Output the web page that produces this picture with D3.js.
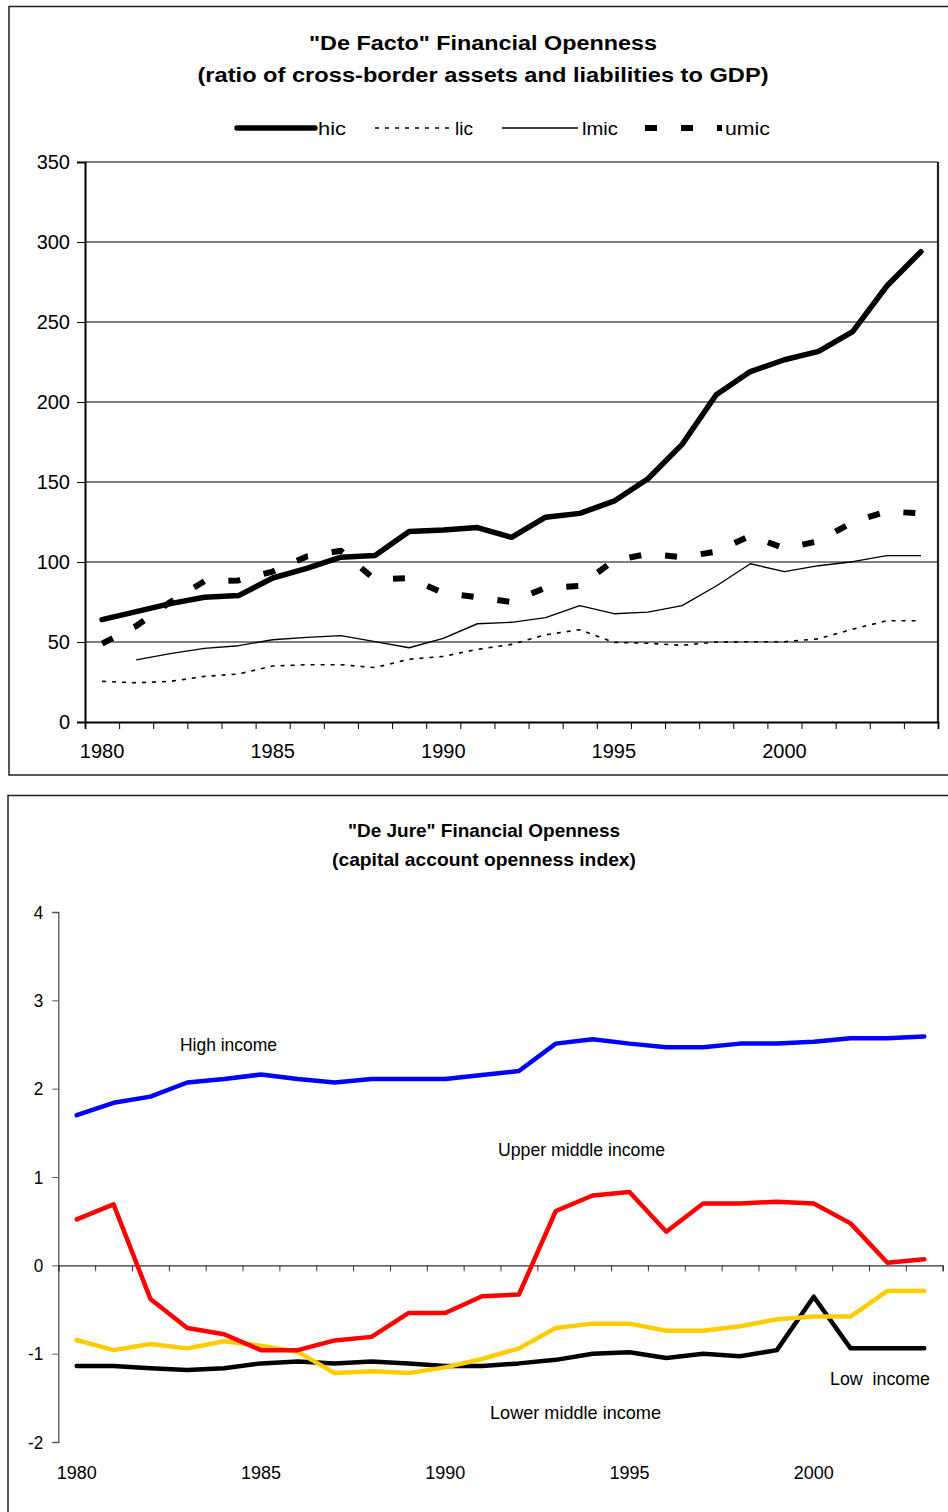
<!DOCTYPE html>
<html>
<head>
<meta charset="utf-8">
<script src="https://cdn.jsdelivr.net/npm/d3@7"></script>
<style>
  html, body { margin: 0; padding: 0; background: #fff; }
  svg { display: block; }
  text { font-family: "Liberation Sans", Arial, sans-serif; fill: #000; }
</style>
</head>
<body>
<svg id="chart" width="948" height="1512"></svg>
<script>
// ---------- Data: "De Facto" financial openness (% of GDP) ----------
const factoYears = d3.range(1980, 2005);
const factoTicks = [0, 50, 100, 150, 200, 250, 300, 350];
const factoLabelYears = [1980, 1985, 1990, 1995, 2000];
const hic  = [64, 69, 74, 78, 79, 90, 96, 103, 104, 119, 120, 121.5, 115.4, 128, 130.4, 138, 152, 173.5, 204.5, 219, 226.4, 231.6, 244, 272.5, 294];
const lic  = [25.4, 24.5, 25.4, 28.5, 30, 35, 35.8, 35.8, 34, 39.2, 41, 45.4, 48.5, 54.5, 57.7, 49.8, 49.2, 47.9, 50, 50.2, 50.2, 52, 58, 63.3, 63.3];
const lmic = [null, 38.8, 42.7, 46, 47.7, 51.4, 52.9, 54, 50.2, 46.4, 52.3, 61.4, 62.3, 65.2, 72.7, 67.7, 68.7, 72.7, 85, 98.9, 94, 97.7, 100.2, 104, 104];
const umic = [49, 60, 75, 88, 88.5, 94, 103.5, 107, 89, 90, 80.6, 78, 75, 84, 85, 101, 105, 103, 106.5, 116.4, 108.5, 113, 125, 131.6, 130.4];
const factoSeriesNames = ["hic", "lic", "lmic", "umic"];

// ---------- Data: "De Jure" capital account openness index ----------
const jureYears = d3.range(1980, 2004);
const jureTicks = [-2, -1, 0, 1, 2, 3, 4];
const jureLabelYears = [1980, 1985, 1990, 1995, 2000];
const highIncome  = [1.70, 1.84, 1.91, 2.07, 2.11, 2.16, 2.11, 2.07, 2.11, 2.11, 2.11, 2.155, 2.2, 2.51, 2.56, 2.51, 2.47, 2.47, 2.51, 2.51, 2.53, 2.57, 2.57, 2.59];
const upperMiddle = [0.52, 0.69, -0.38, -0.71, -0.78, -0.96, -0.96, -0.85, -0.81, -0.54, -0.54, -0.35, -0.33, 0.615, 0.79, 0.83, 0.38, 0.70, 0.70, 0.72, 0.70, 0.475, 0.03, 0.07];
const lowerMiddle = [-0.845, -0.96, -0.89, -0.94, -0.86, -0.91, -0.98, -1.22, -1.20, -1.22, -1.155, -1.06, -0.94, -0.71, -0.66, -0.66, -0.74, -0.74, -0.69, -0.61, -0.58, -0.58, -0.29, -0.29];
const lowIncome   = [-1.14, -1.14, -1.166, -1.185, -1.166, -1.11, -1.09, -1.11, -1.09, -1.11, -1.14, -1.14, -1.11, -1.07, -1.00, -0.985, -1.05, -1.00, -1.03, -0.96, -0.355, -0.94, -0.94, -0.94];
const jureLabels = ["High income", "Upper middle income", "Low  income", "Lower middle income"];

const svg = d3.select("#chart");

function fit(sel, w) {
  sel.attr("textLength", w).attr("lengthAdjust", "spacingAndGlyphs");
  return sel;
}

// =================== TOP CHART ===================
(function () {
  const g = svg.append("g");
  g.append("rect").attr("x", 9).attr("y", 6.5).attr("width", 960).attr("height", 768.5)
    .attr("fill", "none").attr("stroke", "#222").attr("stroke-width", 1.5);

  const L = 85, R = 938, T = 162, B = 722;
  const n = factoYears.length;
  const xBand = d3.scaleBand().domain(factoYears).range([L, R]).paddingInner(0).paddingOuter(0);
  const xEdge = d3.scaleLinear().domain([0, n]).range([L, R]);
  const y = d3.scaleLinear().domain([0, 350]).range([B, T]);
  const xc = i => xBand(factoYears[i]) + xBand.bandwidth() / 2;

  fit(g.append("text").attr("x", 483).attr("y", 50).attr("text-anchor", "middle")
    .attr("font-size", 20).attr("font-weight", "bold").text("\"De Facto\" Financial Openness"), 348);
  fit(g.append("text").attr("x", 483).attr("y", 82).attr("text-anchor", "middle")
    .attr("font-size", 20).attr("font-weight", "bold").text("(ratio of cross-border assets and liabilities to GDP)"), 571);

  g.append("g").selectAll("line").data(factoTicks.filter(d => d > 0)).join("line")
    .attr("x1", L).attr("x2", R).attr("y1", d => y(d)).attr("y2", d => y(d))
    .attr("stroke", "#000").attr("stroke-width", 1);
  g.append("line").attr("x1", R).attr("x2", R).attr("y1", T).attr("y2", B)
    .attr("stroke", "#222").attr("stroke-width", 2.2);

  const ya = g.append("g").attr("transform", `translate(${L},0)`)
    .call(d3.axisLeft(y).tickValues(factoTicks).tickSize(8).tickPadding(7));
  ya.select(".domain").attr("stroke", "#000").attr("stroke-width", 2);
  ya.selectAll(".tick line").attr("stroke", "#000");
  ya.selectAll("text").attr("font-size", 20).attr("font-family", "Liberation Sans, Arial, sans-serif").attr("fill", "#000");

  const xa = g.append("g").attr("transform", `translate(0,${B})`)
    .call(d3.axisBottom(xEdge).tickValues(d3.range(n + 1)).tickSize(7).tickFormat(""));
  xa.select(".domain").attr("stroke", "#000").attr("stroke-width", 1.8);
  xa.selectAll(".tick line").attr("stroke", "#000");
  const xl = g.append("g").attr("transform", `translate(0,${B})`)
    .call(d3.axisBottom(xBand).tickValues(factoLabelYears).tickSize(0).tickPadding(22));
  xl.select(".domain").remove();
  xl.selectAll("text").attr("font-size", 20).attr("font-family", "Liberation Sans, Arial, sans-serif").attr("fill", "#000");

  const line = d3.line().defined(d => d != null).x((d, i) => xc(i)).y(d => y(d));
  const styles = {
    hic:  { data: hic,  w: 5.5, dash: null, cap: "round" },
    lic:  { data: lic,  w: 1.6, dash: "4,6", cap: "butt" },
    lmic: { data: lmic, w: 1.4, dash: null, cap: "butt" },
    umic: { data: umic, w: 6,   dash: "12,24", cap: "butt" }
  };
  ["lic", "lmic", "umic", "hic"].forEach(k => {
    const s = styles[k];
    g.append("path").datum(s.data).attr("d", line)
      .attr("fill", "none").attr("stroke", "#000").attr("stroke-width", s.w)
      .attr("stroke-dasharray", s.dash).attr("stroke-linecap", s.cap).attr("stroke-linejoin", "round");
  });

  const legendPos = {
    hic:  { x1: 237, x2: 315, tx: 318, tw: 28 },
    lic:  { x1: 375, x2: 452, tx: 455, tw: 18 },
    lmic: { x1: 502, x2: 578, tx: 582, tw: 36 },
    umic: { x1: 645, x2: 722, tx: 725, tw: 45 }
  };
  const ly = 128;
  factoSeriesNames.forEach(k => {
    const s = styles[k], p = legendPos[k];
    g.append("line").attr("x1", p.x1).attr("x2", p.x2).attr("y1", ly).attr("y2", ly)
      .attr("stroke", "#000").attr("stroke-width", s.w).attr("stroke-dasharray", s.dash)
      .attr("stroke-linecap", s.cap);
    fit(g.append("text").attr("x", p.tx).attr("y", ly + 7).attr("font-size", 19).text(k), p.tw);
  });
})();

// =================== BOTTOM CHART ===================
(function () {
  const g = svg.append("g");
  g.append("rect").attr("x", 8).attr("y", 795.5).attr("width", 960).attr("height", 760)
    .attr("fill", "none").attr("stroke", "#222").attr("stroke-width", 1.5);

  const L = 58.3, R = 942.7, T = 912, B = 1442;
  const n = jureYears.length;
  const xBand = d3.scaleBand().domain(jureYears).range([L, R]).paddingInner(0).paddingOuter(0);
  const xEdge = d3.scaleLinear().domain([0, n]).range([L, R]);
  const y = d3.scaleLinear().domain([-2, 4]).range([B, T]);
  const xc = i => xBand(jureYears[i]) + xBand.bandwidth() / 2;

  fit(g.append("text").attr("x", 484).attr("y", 837).attr("text-anchor", "middle")
    .attr("font-size", 19).attr("font-weight", "bold").text("\"De Jure\" Financial Openness"), 272);
  fit(g.append("text").attr("x", 484).attr("y", 866).attr("text-anchor", "middle")
    .attr("font-size", 19).attr("font-weight", "bold").text("(capital account openness index)"), 304);

  const ya = g.append("g").attr("transform", `translate(${L},0)`)
    .call(d3.axisLeft(y).tickValues(jureTicks).tickSize(6).tickPadding(9).tickFormat(d => String(d)));
  ya.select(".domain").attr("stroke", "#555").attr("stroke-width", 1.3);
  ya.selectAll(".tick line").attr("stroke", "#555");
  ya.selectAll("text").attr("font-size", 19).attr("font-family", "Liberation Sans, Arial, sans-serif").attr("fill", "#000")
    .each(function () { const w = this.getComputedTextLength(); d3.select(this).attr("textLength", w * 0.9).attr("lengthAdjust", "spacingAndGlyphs"); });

  const xa = g.append("g").attr("transform", `translate(0,${y(0)})`)
    .call(d3.axisBottom(xEdge).tickValues(d3.range(n + 1)).tickSize(6).tickFormat(""));
  xa.select(".domain").attr("stroke", "#333").attr("stroke-width", 1.3);
  xa.selectAll(".tick line").attr("stroke", "#333");

  const xl = g.append("g").attr("transform", `translate(0,${B})`)
    .call(d3.axisBottom(xBand).tickValues(jureLabelYears).tickSize(0).tickPadding(24));
  xl.select(".domain").remove();
  xl.selectAll("text").attr("font-size", 18).attr("font-family", "Liberation Sans, Arial, sans-serif").attr("fill", "#000")
    .attr("textLength", 40).attr("lengthAdjust", "spacingAndGlyphs");

  const line = d3.line().x((d, i) => xc(i)).y(d => y(d));
  const series = [
    { data: lowIncome,   color: "#000000" },
    { data: lowerMiddle, color: "#FFCC00" },
    { data: upperMiddle, color: "#FF0000" },
    { data: highIncome,  color: "#0000FF" }
  ];
  series.forEach(s => {
    g.append("path").datum(s.data).attr("d", line)
      .attr("fill", "none").attr("stroke", s.color).attr("stroke-width", 4.5)
      .attr("stroke-linejoin", "round").attr("stroke-linecap", "round");
  });

  const labelPos = [
    { x: 180, y: 1051, w: 97 },
    { x: 498, y: 1156, w: 167 },
    { x: 830, y: 1385, w: 100 },
    { x: 490, y: 1419, w: 171 }
  ];
  jureLabels.forEach((t, i) => {
    const p = labelPos[i];
    fit(g.append("text").attr("x", p.x).attr("y", p.y).attr("font-size", 19).attr("xml:space", "preserve").text(t), p.w);
  });
})();
</script>
</body>
</html>
